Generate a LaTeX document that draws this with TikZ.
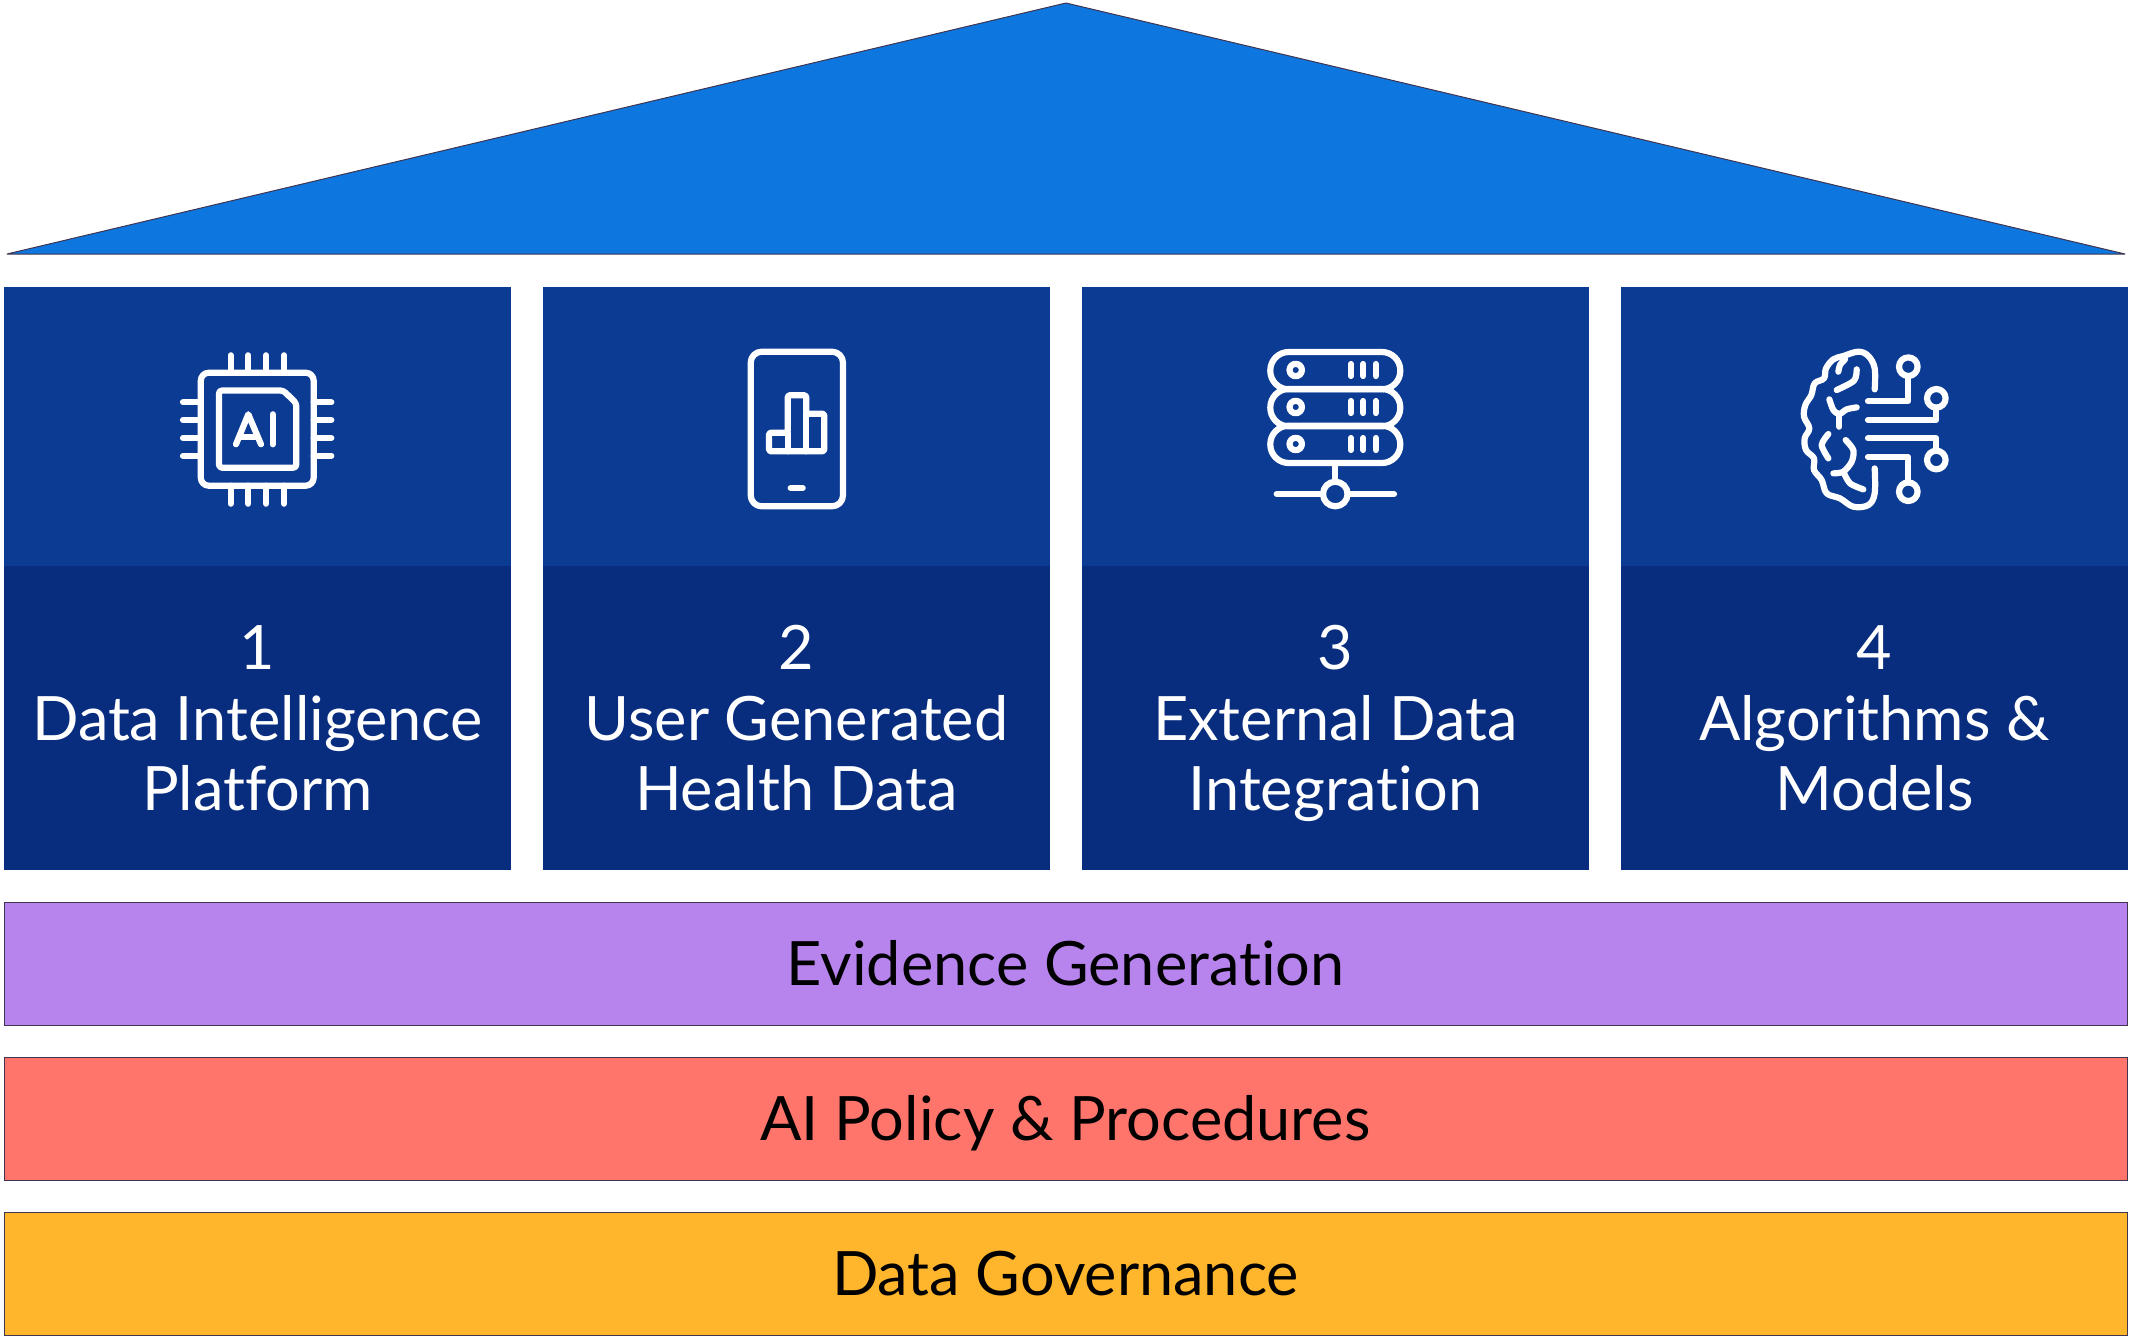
\documentclass[tikz,border=0pt]{standalone}
\usepackage{fontspec}
\setmainfont{Lato}[Ligatures=CommonOff]
\usetikzlibrary{positioning}
\definecolor{roofblue}{HTML}{0D76DF}
\definecolor{pillartop}{HTML}{0B3B93}
\definecolor{pillarlow}{HTML}{082C7E}
\definecolor{bandpurple}{HTML}{B783ED}
\definecolor{bandred}{HTML}{FF756C}
\definecolor{bandyellow}{HTML}{FFB52C}
\definecolor{bandedge}{HTML}{3F3550}
\newcommand{\capup}{\rule{0pt}{30pt}}
\newcommand{\capdown}{\rule[-8pt]{0pt}{8pt}}
\newcommand{\pillartext}[3]{\capup#1\\#2\\#3\capdown}

\begin{document}
\begin{tikzpicture}[x=0.5pt, y=-0.5pt, node distance=16pt,
    every node/.style={inner sep=0pt, outer sep=0pt},
    pillarhead/.style={rectangle, fill=pillartop, minimum width=253.5pt, minimum height=139.5pt},
    pillarbody/.style={rectangle, fill=pillarlow, minimum width=253.5pt, minimum height=152pt,
      text=white, font=\fontsize{30.6}{35.2}\selectfont, align=center},
    band/.style={rectangle, draw=bandedge, line width=0.5pt, minimum width=1061.5pt, minimum height=61.5pt,
      text=black, font=\fontsize{30.6}{35.2}\selectfont,
      execute at begin node=\capup, execute at end node=\capdown},
    iconline/.style={draw=white, line width=3.1pt, line cap=round, line join=round}]
  \useasboundingbox (0,0) rectangle (2132,1339);

  % roof
  \draw[fill=roofblue, draw=bandedge, line width=0.5pt, line join=bevel] (7,254) -- (1066,3) -- (2125,254) -- cycle;

  % pillars
  \node (head1) [pillarhead, anchor=north west] at (4,287) {};
  \node (head2) [pillarhead, right=of head1] {};
  \node (head3) [pillarhead, right=of head2] {};
  \node (head4) [pillarhead, right=of head3] {};
  \node (body1) [pillarbody, below=0pt of head1] {\pillartext{1}{Data Intelligence}{Platform}};
  \node (body2) [pillarbody, below=0pt of head2] {\pillartext{2}{User Generated}{Health Data}};
  \node (body3) [pillarbody, below=0pt of head3] {\pillartext{3}{External Data}{Integration}};
  \node (body4) [pillarbody, below=0pt of head4] {\pillartext{4}{Algorithms \&}{Models}};

  % bands
  \node (evidence) [band, fill=bandpurple, below=16pt of body1.south west, anchor=north west] {Evidence Generation};
  \node (policy) [band, fill=bandred, below=of evidence] {AI Policy \& Procedures};
  \node (governance) [band, fill=bandyellow, below=of policy] {Data Governance};

  % chip icon
  \draw[iconline, rounded corners=4pt] (200.8,372.7) rectangle (313.7,485.7);
  \draw[iconline, rounded corners=1.5pt] (219,390.5) -- (283.3,390.5) -- (296.3,403.3) -- (296.3,467.7) -- (219,467.7) -- cycle;
  \foreach \pinx in {230.7,248.3,266,284} {
    \draw[iconline] (\pinx,355.3) -- (\pinx,372.7);
    \draw[iconline] (\pinx,485.7) -- (\pinx,503.7);
  }
  \foreach \piny in {402.3,420,438,455.7} {
    \draw[iconline] (183,\piny) -- (200.8,\piny);
    \draw[iconline] (313.7,\piny) -- (331.3,\piny);
  }
  \draw[iconline] (236,444.3) -- (248.3,414.3) -- (261,444.3);
  \draw[iconline] (240,436.7) -- (257.3,436.7);
  \draw[iconline] (272.7,414.3) -- (272.7,444.3);

  % phone icon
  \draw[iconline, rounded corners=5.5pt] (750.7,351.7) rectangle (843,506.3);
  \draw[iconline, rounded corners=0.8pt] (769,451.3) -- (769,432.7) -- (787.7,432.7) -- (787.7,395.3)
    -- (806.3,395.3) -- (806.3,413.7) -- (824.3,413.7) -- (824.3,451.3) -- cycle;
  \draw[iconline] (787.7,432.7) -- (787.7,451.3);
  \draw[iconline] (806.3,413.7) -- (806.3,451.3);
  \draw[iconline] (790.7,488) -- (802.7,488);

  % server icon
  \foreach \racktop/\rackdot in {352/370,389/407,425.7/444} {
    \draw[iconline, rounded corners=9.2pt] (1270.3,\racktop) rectangle (1400.3,\racktop+37.3);
    \draw[iconline] (1295.7,\rackdot) circle (3.1pt);
    \draw[iconline] (1351,\rackdot-6) -- (1351,\rackdot+6);
    \draw[iconline] (1363.3,\rackdot-6) -- (1363.3,\rackdot+6);
    \draw[iconline] (1375.7,\rackdot-6) -- (1375.7,\rackdot+6);
  }
  \draw[iconline] (1335.3,463) -- (1335.3,481.7);
  \draw[iconline] (1335.3,494) circle (6.15pt);
  \draw[iconline] (1276.7,494) -- (1323,494);
  \draw[iconline] (1347.6,494) -- (1394,494);

  % brain icon
  \draw[iconline] (1908.3,366.7) circle (4.65pt);
  \draw[iconline] (1936.3,398.3) circle (4.65pt);
  \draw[iconline] (1936.3,460) circle (4.65pt);
  \draw[iconline] (1908.3,491.7) circle (4.65pt);
  \draw[iconline] (1868,401.3) -- (1908.3,401.3) -- (1908.3,376);
  \draw[iconline] (1868,420) -- (1936.3,420) -- (1936.3,407.7);
  \draw[iconline] (1868,438.3) -- (1936.3,438.3) -- (1936.3,450.7);
  \draw[iconline] (1868,457) -- (1908.3,457) -- (1908.3,482.4);
  \begin{scope}[shift={(1780,330)}, x=0.1667pt, y=-0.1667pt]
    \draw[iconline] plot[smooth, tension=0.6] coordinates {(284,178) (284,115) (265,78) (235,65) (190,78) (160,88)
      (138,115) (132,145) (104,160) (94,195) (76,225) (72,260) (88,295) (74,325) (78,360) (102,385) (102,420)
      (125,450) (140,490) (180,505) (220,530) (265,525) (284,490) (284,415)};
    \draw[iconline] plot[smooth] coordinates {(175,125) (180,105) (195,88)};
    \draw[iconline] plot[smooth] coordinates {(230,118) (222,152) (170,180)};
    \draw[iconline] plot[smooth] coordinates {(148,208) (160,240) (178,252) (200,238) (230,232)};
    \draw[iconline] (178,252) -- (178,290);
    \draw[iconline] plot[smooth] coordinates {(145,312) (125,345) (145,385)};
    \draw[iconline] plot[smooth] coordinates {(197,330) (220,360) (215,395) (190,425) (160,430)};
    \draw[iconline] plot[smooth] coordinates {(190,425) (210,460) (250,478)};
  \end{scope}
\end{tikzpicture}
\end{document}
